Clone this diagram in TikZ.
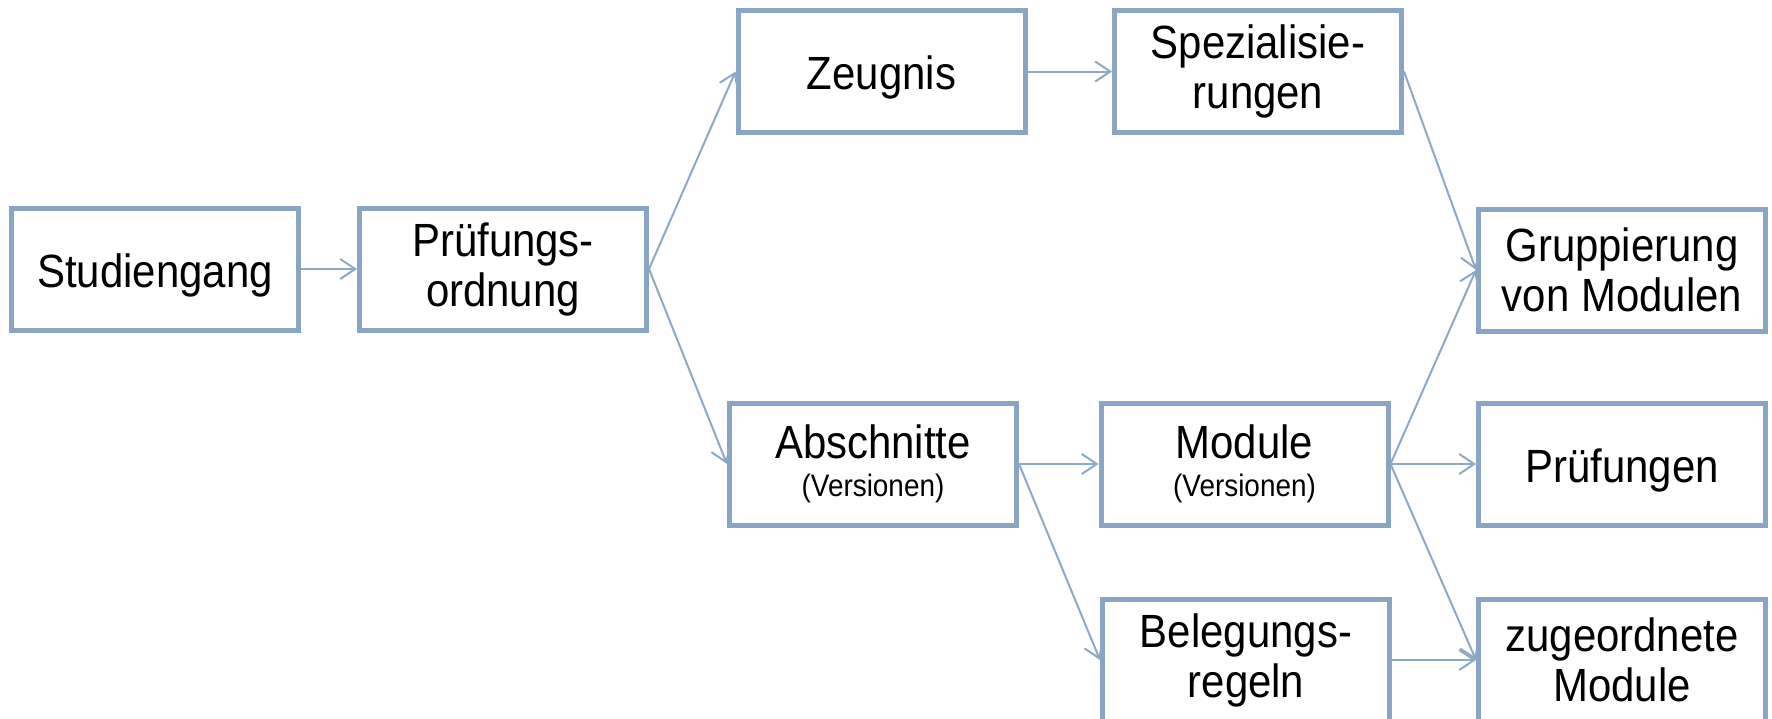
\documentclass[tikz,border=0pt]{standalone}
\usepackage{fontspec}
\setmainfont[FakeStretch=0.9]{Liberation Sans}
\usetikzlibrary{arrows.meta}
\definecolor{boxblue}{HTML}{8AA4C4}
\definecolor{lineblue}{HTML}{8EA8C7}
\tikzset{
  box/.style={draw=boxblue, line width=2.5pt, fill=white, minimum width=143.5pt, minimum height=61pt,
    inner sep=0pt, align=center, font=\fontsize{23.3}{25}\selectfont,
    execute at begin node={\rule{0pt}{23pt}}},
  vbox/.style={box, execute at begin node={\rule{0pt}{27pt}}},
  conn/.style={draw=lineblue, line width=1pt, -{Straight Barb[length=7.5pt,width=10pt,line width=1pt]}},
}
\newcommand{\vers}{{\fontsize{15.5}{17}\selectfont (Versionen)}}
\begin{document}
\begin{tikzpicture}[x=0.5pt,y=-0.5pt]
\useasboundingbox (0,0) rectangle (1772,718);
\node[box] (stud) at (155,269) {Studiengang};
\node[box] (po) at (503,269) {Prüfungs-\\ordnung};
\node[box] (zeug) at (881.5,71.5) {Zeugnis};
\node[box] (spez) at (1258,71.5) {Spezialisie-\\rungen};
\node[box] (grup) at (1622,270) {Gruppierung\\von Modulen};
\node[vbox] (absch) at (873,464) {Abschnitte\\[-5.9pt]\vers};
\node[vbox] (mod) at (1244.5,464) {Module\\[-5.9pt]\vers};
\node[box] (pruef) at (1622,464) {Prüfungen};
\node[box] (beleg) at (1246,660) {Belegungs-\\regeln};
\node[box] (zug) at (1622,660) {zugeordnete\\Module};
\draw[conn] (stud.east) -- (po.west);
\draw[conn] (po.east) -- (zeug.west);
\draw[conn] (po.east) -- (absch.west);
\draw[conn] (zeug.east) -- (spez.west);
\draw[conn] (spez.east) -- (grup.west);
\draw[conn] (absch.east) -- (mod.west);
\draw[conn] (absch.east) -- (beleg.west);
\draw[conn] (mod.east) -- (grup.west);
\draw[conn] (mod.east) -- (pruef.west);
\draw[conn] (mod.east) -- (zug.west);
\draw[conn] (beleg.east) -- (zug.west);
\end{tikzpicture}
\end{document}
